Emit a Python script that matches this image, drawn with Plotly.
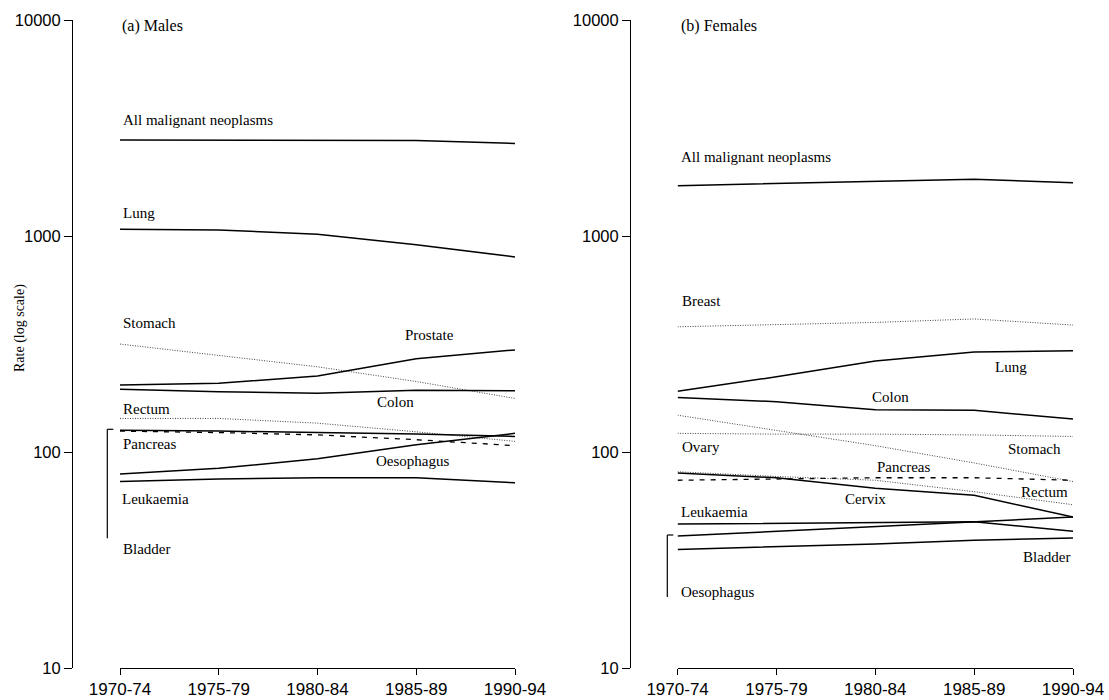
import plotly.graph_objects as go

# ---------------- data ----------------
periods = ["1970-74", "1975-79", "1980-84", "1985-89", "1990-94"]
y_tickvals = [10, 100, 1000, 10000]
y_ticktext = ["10", "100", "1000", "10000"]

# Males
m_all = [2780, 2780, 2780, 2770, 2680]
m_lung = [1075, 1065, 1020, 910, 800]
m_stomach = [316, 281, 248, 212, 177]
m_prostate = [204, 208, 225, 270, 297]
m_colon = [195, 190, 187, 193, 192]
m_rectum = [143, 143, 136, 124, 112]
m_pancreas = [126, 125, 123, 121, 118]
m_bladder = [125, 123, 120, 114, 107]
m_oesophagus = [79, 84, 93, 108, 122]
m_leukaemia = [73, 75, 76, 76, 72]

# Females
f_all = [1710, 1750, 1785, 1830, 1765]
f_breast = [380, 390, 398, 413, 387]
f_lung = [191, 223, 264, 290, 294]
f_colon = [179, 171, 157, 156, 142]
f_stomach = [148, 126, 107, 89, 73]
f_ovary = [122, 121, 121, 120, 118]
f_pancreas = [74, 75, 76, 76, 74]
f_cervix = [80, 76, 68, 63, 50]
f_rectum = [81, 77, 74, 65.5, 57]
f_leukaemia = [46.4, 46.7, 47, 47.5, 43]
f_oesophagus = [40.8, 43, 45, 47.5, 50]
f_bladder = [35.4, 36.5, 37.5, 39, 40]

# ---------------- layout helpers ----------------
W, H = 1109, 700
ML, MR, MT, MB = 72, 36, 20, 32
PW = W - ML - MR
PH = H - MT - MB


def px(x):
    return (x - ML) / PW


def py(y):
    return (H - MB - y) / PH


SOLID = dict(color="black", width=1.5)
DOTTED = dict(color="#444444", width=1, dash="1px,1.5px")
DASHED = dict(color="black", width=1.3, dash="5px,6px")

fig = go.Figure()

males = [
    ("All malignant neoplasms", m_all, SOLID),
    ("Lung", m_lung, SOLID),
    ("Stomach", m_stomach, DOTTED),
    ("Prostate", m_prostate, SOLID),
    ("Colon", m_colon, SOLID),
    ("Rectum", m_rectum, DOTTED),
    ("Pancreas", m_pancreas, SOLID),
    ("Bladder", m_bladder, DASHED),
    ("Oesophagus", m_oesophagus, SOLID),
    ("Leukaemia", m_leukaemia, SOLID),
]
females = [
    ("All malignant neoplasms", f_all, SOLID),
    ("Breast", f_breast, DOTTED),
    ("Lung", f_lung, SOLID),
    ("Colon", f_colon, SOLID),
    ("Stomach", f_stomach, DOTTED),
    ("Ovary", f_ovary, DOTTED),
    ("Pancreas", f_pancreas, DASHED),
    ("Cervix", f_cervix, SOLID),
    ("Rectum", f_rectum, DOTTED),
    ("Leukaemia", f_leukaemia, SOLID),
    ("Oesophagus", f_oesophagus, SOLID),
    ("Bladder", f_bladder, SOLID),
]

for name, vals, ln in males:
    fig.add_trace(go.Scatter(x=periods, y=vals, mode="lines", name=name,
                             line=ln, xaxis="x", yaxis="y", showlegend=False))
for name, vals, ln in females:
    fig.add_trace(go.Scatter(x=periods, y=vals, mode="lines", name=name,
                             line=ln, xaxis="x2", yaxis="y2", showlegend=False))

SERIF = "Liberation Serif, Times New Roman, serif"
SANS = "Liberation Sans, Arial, sans-serif"

labels = [
    # left panel
    ("(a) Males", 120, 26, 16),
    ("All malignant neoplasms", 121, 120, 15),
    ("Lung", 121, 213, 15),
    ("Stomach", 121, 323, 15),
    ("Prostate", 403, 335, 15),
    ("Colon", 375, 402, 15),
    ("Rectum", 121, 409, 15),
    ("Pancreas", 121, 444, 15),
    ("Oesophagus", 374, 461, 15),
    ("Leukaemia", 120, 499, 15),
    ("Bladder", 121, 549, 15),
    # right panel
    ("(b) Females", 679, 26, 16),
    ("All malignant neoplasms", 679, 157, 15),
    ("Breast", 680, 301, 15),
    ("Lung", 993, 367, 15),
    ("Colon", 870, 397, 15),
    ("Ovary", 680, 447, 15),
    ("Stomach", 1006, 449, 15),
    ("Pancreas", 875, 467, 15),
    ("Rectum", 1019, 492, 15),
    ("Cervix", 843, 499, 15),
    ("Leukaemia", 679, 512, 15),
    ("Bladder", 1021, 557, 15),
    ("Oesophagus", 679, 592, 15),
]

annotations = []
for text, x, y, size in labels:
    annotations.append(dict(text=text, x=px(x), y=py(y), xref="paper", yref="paper",
                            xanchor="left", yanchor="middle", showarrow=False,
                            font=dict(family=SERIF, size=size, color="black")))
annotations.append(dict(text="Rate (log scale)", x=px(20), y=py(328), xref="paper", yref="paper",
                        xanchor="center", yanchor="middle", showarrow=False, textangle=-90,
                        font=dict(family=SERIF, size=14, color="black")))

shapes = []
for (bx, y0, y1) in [(107.3, 429.3, 538.3), (667.3, 535, 597)]:
    shapes.append(dict(type="line", xref="paper", yref="paper",
                       x0=px(bx), x1=px(bx), y0=py(y0), y1=py(y1),
                       line=dict(color="black", width=1.2)))
    shapes.append(dict(type="line", xref="paper", yref="paper",
                       x0=px(bx), x1=px(bx + 6), y0=py(y0), y1=py(y0),
                       line=dict(color="black", width=1.2)))

xcommon = dict(type="category", range=[0, 4], showline=True, linecolor="black", linewidth=1,
               ticks="outside", ticklen=6, tickcolor="black", tickwidth=1,
               showgrid=False, zeroline=False, automargin=False,
               tickfont=dict(family=SANS, size=17, color="black"))
ycommon = dict(type="log", range=[1, 4], showline=True, linecolor="black", linewidth=1,
               ticks="outside", ticklen=8, tickcolor="black", tickwidth=1,
               tickvals=y_tickvals, ticktext=y_ticktext,
               showgrid=False, zeroline=False, anchor="free", domain=[0, 1],
               automargin=False,
               tickfont=dict(family=SANS, size=16.5, color="black"))

fig.update_layout(
    width=W, height=H,
    margin=dict(l=ML, r=MR, t=MT, b=MB, pad=0, autoexpand=False),
    paper_bgcolor="white", plot_bgcolor="white",
    showlegend=False,
    xaxis=dict(domain=[px(120), px(515)], anchor="y", **xcommon),
    yaxis=dict(position=px(72), **ycommon),
    xaxis2=dict(domain=[px(677.6), px(1073)], anchor="y2", **xcommon),
    yaxis2=dict(position=px(630), **ycommon),
    annotations=annotations,
    shapes=shapes,
)

fig.write_html(
    "out.html",
    config={"displayModeBar": False},
    post_script="document.body.style.margin='0';document.body.style.padding='0';"
                "document.body.style.overflow='hidden';",
)
